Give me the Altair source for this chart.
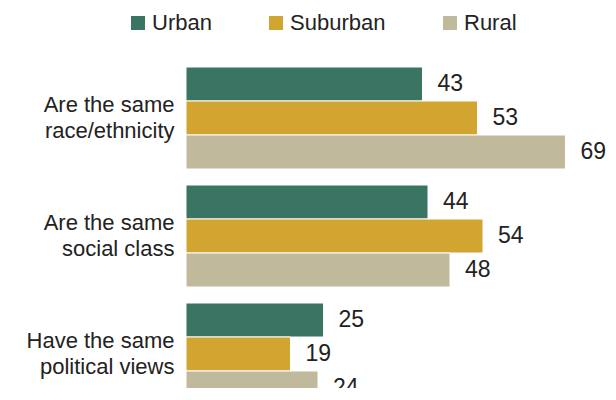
import altair as alt
import pandas as pd

questions = ["Are the same|race/ethnicity", "Are the same|social class", "Have the same|political views"]
series = ["Urban", "Suburban", "Rural"]
urban = [43, 44, 25]
suburban = [53, 54, 19]
rural = [69, 48, 24]
colors = ["#3a7564", "#d2a430", "#c0b99c"]

rows = []
for i, q in enumerate(questions):
    for s, vals in zip(series, [urban, suburban, rural]):
        rows.append({"question": q, "area": s, "value": vals[i]})
df = pd.DataFrame(rows)

FONT = "Liberation Sans"

y = alt.Y(
    "question:N", sort=questions, title=None,
    scale=alt.Scale(range=[0, 338], paddingInner=16 / 118, paddingOuter=0),
    axis=alt.Axis(domain=False, ticks=False, labelFontSize=22, labelFont=FONT,
                  labelColor="#222222", labelPadding=12, labelLineHeight=26,
                  labelOffset=-13,
                  labelExpr="split(datum.label, '|')", labelLimit=0),
)
yoff = alt.YOffset("area:N", sort=series, scale=alt.Scale(paddingInner=0, paddingOuter=0))
x = alt.X("value:Q", scale=alt.Scale(domain=[0, 404 / 5.5], nice=False, zero=True), axis=None)

base = alt.Chart(df)
bars = base.mark_bar(stroke="#ffffff", strokeWidth=1, clip=True).encode(
    x=x, y=y, yOffset=yoff,
    color=alt.Color(
        "area:N", sort=series,
        scale=alt.Scale(domain=series, range=colors),
        legend=alt.Legend(
            orient="none", legendX=-59, legendY=-55, direction="horizontal",
            title=None, symbolType="square", symbolSize=196, symbolStrokeWidth=0,
            labelFontSize=22, labelFont=FONT, labelColor="#222222",
            labelOffset=3, columnPadding=53,
        ),
    ),
)
labels = base.mark_text(
    align="left", baseline="middle", dx=15, fontSize=23, font=FONT, color="#222222"
).encode(x=x, y=y, yOffset=yoff, text="value:Q")

chart = (bars + labels).properties(
    width=404, height=321,
    padding={"left": 178, "top": 59, "right": 18, "bottom": 0},
    autosize=alt.AutoSizeParams(type="none"),
).configure_view(stroke=None)

chart.save("out.html", embed_options={"renderer": "svg", "actions": False})
